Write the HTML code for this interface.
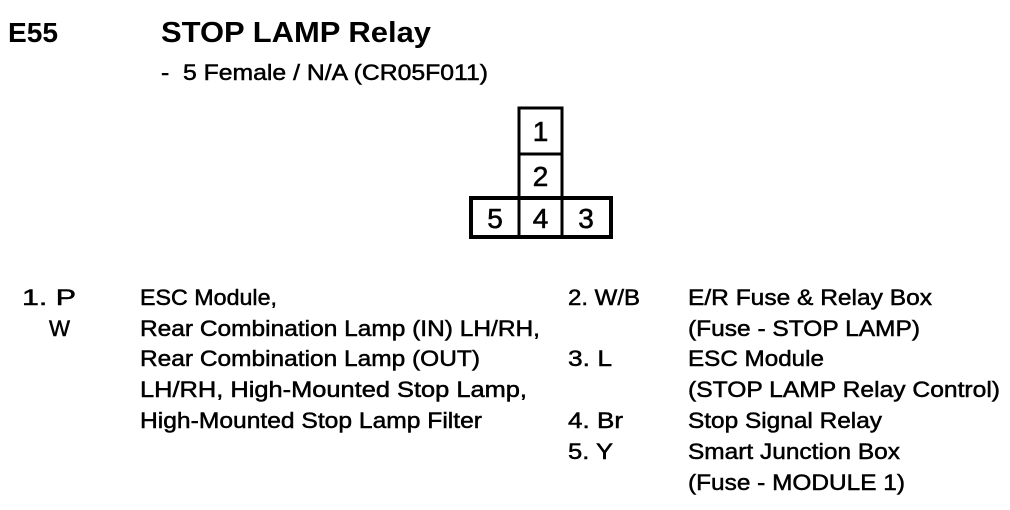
<!DOCTYPE html>
<html><head><meta charset="utf-8"><style>
html,body{margin:0;padding:0;background:#fff;}
svg{display:block}
text{font-family:"Liberation Sans",Arial,sans-serif;fill:#000;}
.t{font-size:22px;stroke:#000;stroke-width:0.5px;}
</style></head><body>
<svg width="1010" height="510" viewBox="0 0 1010 510" xmlns="http://www.w3.org/2000/svg">
<text x="8" y="42" font-size="28" font-weight="bold" textLength="50" lengthAdjust="spacingAndGlyphs">E55</text>
<text x="161" y="42" font-size="29" font-weight="bold" textLength="270" lengthAdjust="spacingAndGlyphs">STOP LAMP Relay</text>
<text x="161" y="80" class="t" textLength="327" lengthAdjust="spacingAndGlyphs">-&#160;&#160;5 Female / N/A (CR05F011)</text>

<g fill="none" stroke="#000">
<rect x="519" y="108" width="43" height="90" stroke-width="3"/>
<line x1="519" y1="154" x2="562" y2="154" stroke-width="3"/>
<rect x="471" y="198" width="140" height="39" stroke-width="4"/>
<line x1="519" y1="198" x2="519" y2="237" stroke-width="3"/>
<line x1="562" y1="198" x2="562" y2="237" stroke-width="3"/>
</g>
<g font-size="28" text-anchor="middle" stroke="#000" stroke-width="0.6">
<text x="540.5" y="141">1</text>
<text x="540.5" y="186">2</text>
<text x="495" y="228">5</text>
<text x="540.5" y="228">4</text>
<text x="586" y="228">3</text>
</g>

<g class="t">
<text x="22" y="305" textLength="54" lengthAdjust="spacingAndGlyphs">1. P</text>
<text x="49" y="336" textLength="21" lengthAdjust="spacingAndGlyphs">W</text>
<text x="140" y="305" textLength="137" lengthAdjust="spacingAndGlyphs">ESC Module,</text>
<text x="140" y="336" textLength="400" lengthAdjust="spacingAndGlyphs">Rear Combination Lamp (IN) LH/RH,</text>
<text x="140" y="366" textLength="340" lengthAdjust="spacingAndGlyphs">Rear Combination Lamp (OUT)</text>
<text x="140" y="397" textLength="387" lengthAdjust="spacingAndGlyphs">LH/RH, High-Mounted Stop Lamp,</text>
<text x="140" y="428" textLength="342" lengthAdjust="spacingAndGlyphs">High-Mounted Stop Lamp Filter</text>

<text x="568" y="305" textLength="72" lengthAdjust="spacingAndGlyphs">2. W/B</text>
<text x="568" y="366" textLength="44" lengthAdjust="spacingAndGlyphs">3. L</text>
<text x="568" y="428" textLength="55" lengthAdjust="spacingAndGlyphs">4. Br</text>
<text x="568" y="459" textLength="45" lengthAdjust="spacingAndGlyphs">5. Y</text>

<text x="688" y="305" textLength="244" lengthAdjust="spacingAndGlyphs">E/R Fuse &amp; Relay Box</text>
<text x="688" y="336" textLength="232" lengthAdjust="spacingAndGlyphs">(Fuse - STOP LAMP)</text>
<text x="688" y="366" textLength="136" lengthAdjust="spacingAndGlyphs">ESC Module</text>
<text x="688" y="397" textLength="312" lengthAdjust="spacingAndGlyphs">(STOP LAMP Relay Control)</text>
<text x="688" y="428" textLength="194" lengthAdjust="spacingAndGlyphs">Stop Signal Relay</text>
<text x="688" y="459" textLength="212" lengthAdjust="spacingAndGlyphs">Smart Junction Box</text>
<text x="688" y="490" textLength="217" lengthAdjust="spacingAndGlyphs">(Fuse - MODULE 1)</text>
</g>
</svg>
</body></html>
